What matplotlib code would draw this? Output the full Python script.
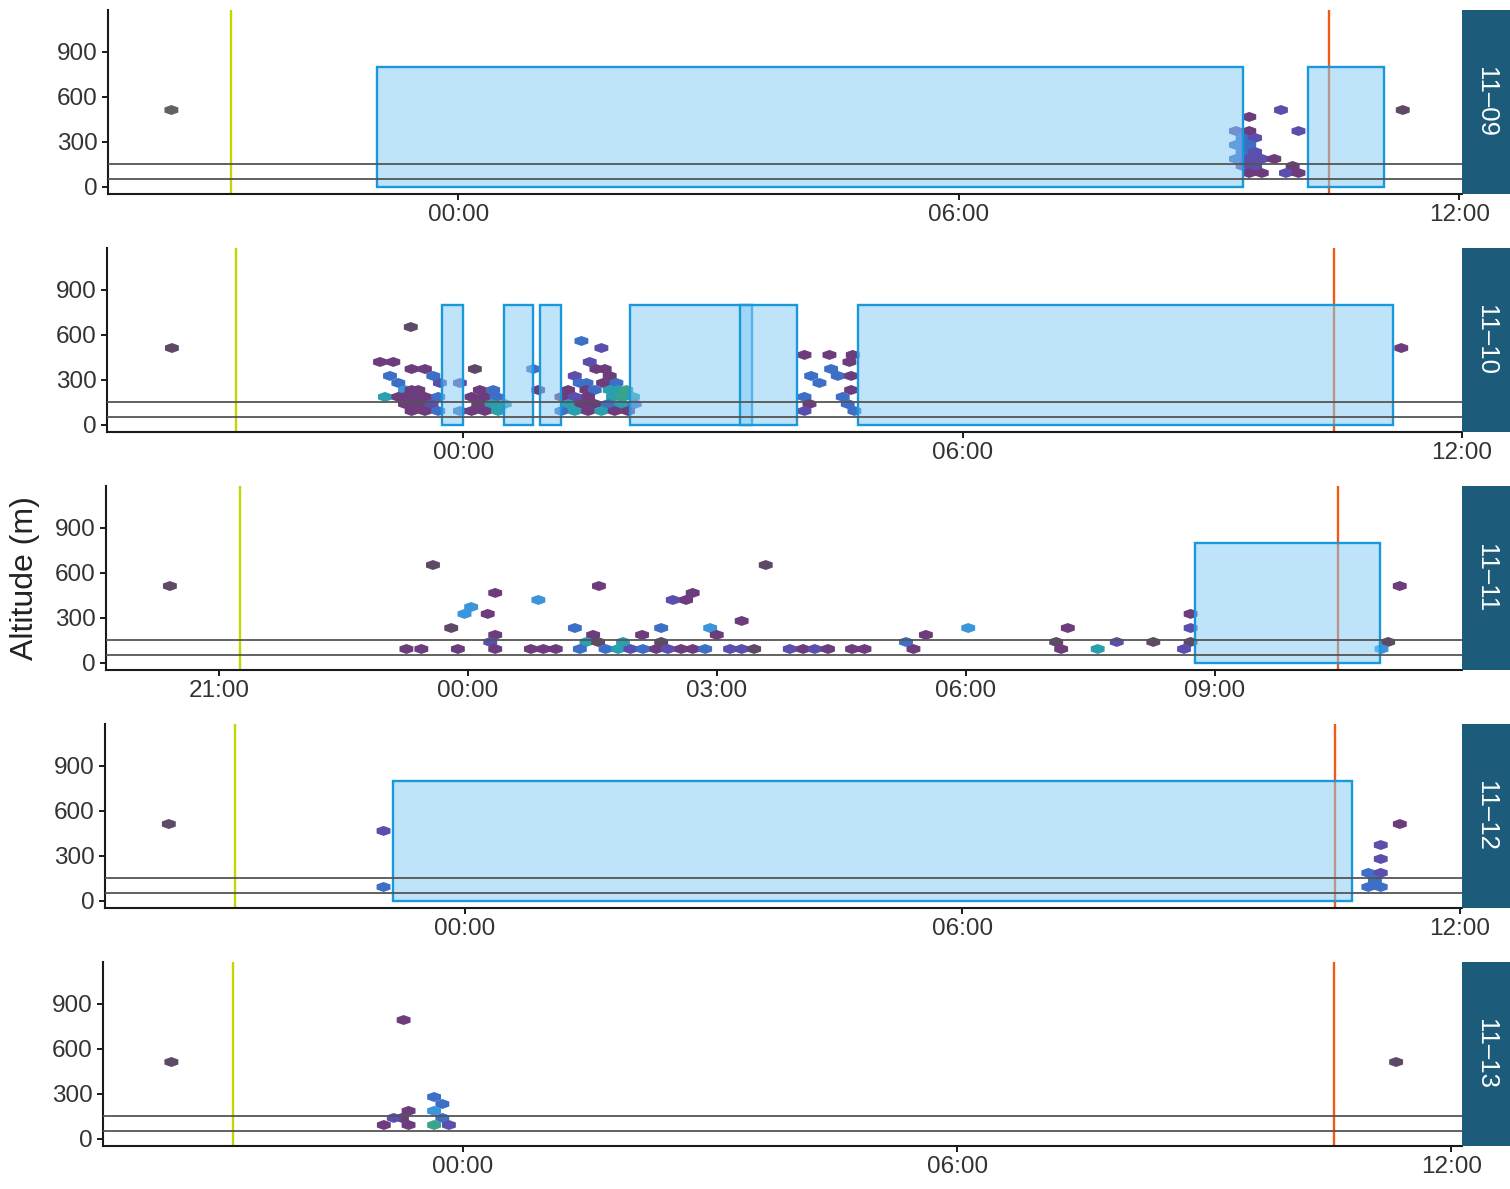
import matplotlib
matplotlib.use("Agg")
import matplotlib.pyplot as plt
from matplotlib.path import Path
from matplotlib.colors import LinearSegmentedColormap

plt.rcParams['font.family'] = ['Liberation Sans', 'DejaVu Sans']

# ---------------------------------------------------------------- data
# Night labels (one facet per night)
DATES = ["11–09", "11–10", "11–11", "11–12", "11–13"]

# Sunset / sunrise, hours relative to midnight
SUNSET = [-2.72, -2.73, -2.75, -2.77, -2.79]
SUNRISE = [10.44, 10.46, 10.48, 10.50, 10.57]

# Reference altitudes (m)
REF_ALTS = [50, 150]
RECT_TOP = 800

# Active periods (start, end), hours relative to midnight
RECT_0909 = [(-0.98, 9.41), (10.19, 11.10)]
RECT_0910 = [(-0.26, 0.00), (0.49, 0.84), (0.92, 1.17), (2.00, 3.47),
             (3.32, 4.01), (4.74, 11.17)]
RECT_0911 = [(8.76, 10.99)]
RECT_0912 = [(-0.86, 10.70)]
RECT_0913 = []

# Hex cells: (time h, altitude m, level 0-7)
HEX_0909 = [
    (-3.44, 513, 0), (11.32, 513, 1),
    (9.48, 467, 2), (9.86, 513, 3), (10.07, 373, 3),
    (9.32, 373, 3), (9.48, 373, 2), (9.40, 327, 4), (9.55, 327, 3),
    (9.32, 280, 4), (9.48, 280, 4), (9.40, 233, 4), (9.55, 233, 3),
    (9.32, 187, 4), (9.48, 187, 3), (9.63, 187, 3), (9.78, 187, 2),
    (9.40, 140, 3), (9.55, 140, 3), (10.00, 140, 2),
    (9.48, 93, 2), (9.63, 93, 2), (9.92, 93, 3), (10.07, 93, 2),
]

HEX_0910 = [
    (-3.50, 513, 1), (11.27, 513, 2), (-0.63, 653, 1),
    # evening cluster
    (-1.00, 420, 2), (-0.84, 420, 2),
    (-0.62, 373, 2), (-0.46, 373, 2), (0.14, 373, 1),
    (-0.88, 327, 4), (-0.36, 327, 4),
    (-0.78, 280, 4), (-0.28, 280, 3), (-0.04, 280, 3),
    (-0.70, 233, 5), (-0.62, 233, 2), (-0.54, 233, 2), (0.20, 233, 2),
    (0.36, 233, 4), (0.90, 233, 2),
    (-0.94, 187, 6), (-0.78, 187, 2), (-0.70, 187, 2), (-0.62, 187, 2),
    (-0.46, 187, 2), (-0.30, 187, 4), (0.10, 187, 2), (0.26, 187, 2),
    (0.40, 187, 4),
    (-0.70, 140, 2), (-0.54, 140, 2), (-0.38, 140, 3), (0.18, 140, 2),
    (0.34, 140, 6), (0.50, 140, 6),
    (-0.62, 93, 2), (-0.46, 93, 2), (-0.30, 93, 4), (-0.04, 93, 4),
    (0.10, 93, 2), (0.26, 93, 2), (0.42, 93, 6),
    (0.84, 373, 4),
    # early-morning cluster
    (1.42, 560, 4), (1.66, 513, 3), (1.52, 420, 3),
    (1.60, 373, 2), (1.70, 373, 2),
    (1.34, 327, 3), (1.76, 327, 2),
    (1.40, 280, 4), (1.48, 280, 4), (1.68, 280, 2), (1.84, 280, 4),
    (1.26, 233, 2), (1.48, 233, 2), (1.58, 233, 4), (1.76, 233, 6),
    (1.86, 233, 6), (1.96, 233, 7),
    (1.18, 187, 2), (1.34, 187, 3), (1.50, 187, 2), (1.80, 187, 6),
    (1.92, 187, 7), (2.04, 187, 6),
    (1.26, 140, 6), (1.42, 140, 2), (1.58, 140, 2), (1.74, 140, 4),
    (1.90, 140, 6), (2.06, 140, 4),
    (1.18, 93, 4), (1.34, 93, 6), (1.50, 93, 2), (1.66, 93, 6),
    (1.82, 93, 2), (1.98, 93, 2),
    # pre-dawn cluster
    (4.10, 467, 2), (4.40, 467, 2), (4.68, 467, 2), (4.64, 420, 2),
    (4.42, 373, 4), (4.18, 327, 4), (4.50, 327, 4), (4.66, 327, 2),
    (4.28, 280, 4), (4.66, 233, 2), (4.10, 187, 4), (4.56, 187, 4),
    (4.16, 140, 2), (4.62, 140, 4), (4.10, 93, 3), (4.70, 93, 4),
]

HEX_0911 = [
    (-3.59, 513, 1), (11.23, 513, 2),
    (-0.42, 653, 1), (3.59, 653, 1),
    (-0.74, 93, 2), (-0.56, 93, 2), (-0.20, 233, 1), (-0.12, 93, 2),
    (-0.04, 327, 5), (0.04, 373, 5), (0.24, 327, 2), (0.33, 467, 2),
    (0.33, 187, 2), (0.27, 140, 3), (0.33, 93, 2),
    (0.85, 420, 5), (1.58, 513, 2),
    (2.47, 420, 3), (2.63, 420, 2), (2.71, 467, 2), (3.30, 280, 2),
    (1.29, 233, 4), (2.33, 233, 4), (2.92, 233, 5),
    (3.00, 187, 2), (2.10, 187, 2), (1.51, 187, 2), (5.52, 187, 2),
    (6.03, 233, 5),
    (1.43, 140, 6), (1.57, 140, 1), (1.87, 140, 6), (2.33, 140, 1),
    (5.28, 140, 4),
    (0.76, 93, 2), (0.91, 93, 2), (1.06, 93, 2), (1.35, 93, 4),
    (1.66, 93, 4), (1.81, 93, 6), (1.96, 93, 3), (2.11, 93, 4),
    (2.27, 93, 2), (2.41, 93, 3), (2.57, 93, 2), (2.71, 93, 2),
    (2.86, 93, 4), (3.16, 93, 3), (3.30, 93, 3), (3.45, 93, 1),
    (3.88, 93, 3), (4.04, 93, 2), (4.18, 93, 3), (4.34, 93, 2),
    (4.63, 93, 2), (4.78, 93, 2), (5.37, 93, 2),
    (7.23, 233, 2), (7.09, 140, 1), (7.15, 93, 2), (7.59, 93, 6),
    (7.82, 140, 3), (8.26, 140, 1),
    (8.71, 327, 2), (8.71, 233, 3), (8.71, 140, 1), (8.63, 93, 3),
    (11.09, 140, 1), (11.01, 93, 5),
]

HEX_0912 = [
    (-3.57, 513, 1), (11.28, 513, 2),
    (-0.98, 467, 3), (-0.98, 93, 4),
    (11.05, 373, 3), (11.05, 280, 3), (10.90, 187, 4), (11.05, 187, 3),
    (10.98, 140, 4), (10.90, 93, 4), (11.05, 93, 4),
]

HEX_0913 = [
    (-3.54, 513, 1), (11.33, 513, 1),
    (-0.72, 793, 2),
    (-0.35, 280, 4), (-0.25, 233, 4), (-0.35, 187, 5), (-0.25, 140, 4),
    (-0.35, 93, 7), (-0.17, 93, 3),
    (-0.66, 187, 2), (-0.74, 140, 2), (-0.84, 140, 3),
    (-0.96, 93, 2), (-0.66, 93, 2),
]

# Axis ticks per facet (hours relative to midnight) and their labels
TICKS_6H = [0, 6, 12]
TICKLABELS_6H = ["00:00", "06:00", "12:00"]
TICKS_3H = [-3, 0, 3, 6, 9]
TICKLABELS_3H = ["21:00", "00:00", "03:00", "06:00", "09:00"]
Y_TICKS = [0, 300, 600, 900]

# ---------------------------------------------------------------- style
W, H = 1510, 1189
PANEL_LEFT = [108, 107, 106, 105, 103]
PANEL_RIGHT = 1462
PANEL_TOP = [10, 248, 486, 724, 962]
PANEL_H = 184
XLIMS = [(-4.20, 12.03), (-4.28, 12.00), (-4.36, 11.98),
         (-4.34, 12.03), (-4.37, 12.13)]
YLIM = (-47, 1180)

STRIP_COLOR = "#1c5b79"
RECT_FACE = (0.52, 0.80, 0.97, 0.52)
RECT_EDGE = "#1a98dc"
SUNSET_COLOR = "#c3d600"
SUNRISE_COLOR = "#f25a14"
REF_COLOR = "#555555"
TEXT_COLOR = "#333333"

LEVEL_CMAP = LinearSegmentedColormap.from_list(
    "levels",
    ["#646166", "#5e4a66", "#6c3c7c", "#5b4fae",
     "#3e6fc6", "#3a95da", "#2aa0ae", "#3aa38a"])

# slightly squat, pointy-top hexagon
HEX_MARKER = Path([(0, 0.36), (0.5, 0.18), (0.5, -0.18), (0, -0.36),
                   (-0.5, -0.18), (-0.5, 0.18), (0, 0.36)], closed=True)

facets = [
    (HEX_0909, RECT_0909, TICKS_6H, TICKLABELS_6H),
    (HEX_0910, RECT_0910, TICKS_6H, TICKLABELS_6H),
    (HEX_0911, RECT_0911, TICKS_3H, TICKLABELS_3H),
    (HEX_0912, RECT_0912, TICKS_6H, TICKLABELS_6H),
    (HEX_0913, RECT_0913, TICKS_6H, TICKLABELS_6H),
]

fig = plt.figure(figsize=(W / 100, H / 100), dpi=100)
fig.patch.set_facecolor("white")

for i, (hexes, rects, xt, xtl) in enumerate(facets):
    left = PANEL_LEFT[i]
    top = PANEL_TOP[i]
    ax = fig.add_axes([left / W, 1 - (top + PANEL_H) / H,
                       (PANEL_RIGHT - left) / W, PANEL_H / H])
    ax.set_xlim(*XLIMS[i])
    ax.set_ylim(*YLIM)

    # sunset / sunrise
    ax.axvline(SUNSET[i], color=SUNSET_COLOR, lw=1.7, zorder=1)
    ax.axvline(SUNRISE[i], color=SUNRISE_COLOR, lw=1.7, zorder=1)

    # hex cells
    if hexes:
        t, alt, lvl = zip(*hexes)
        ax.scatter(t, alt, c=lvl, cmap=LEVEL_CMAP, vmin=0, vmax=7,
                   marker=HEX_MARKER, s=100, linewidths=0, zorder=2)

    # active periods
    for start, end in rects:
        ax.bar(start, RECT_TOP, width=end - start, bottom=0, align="edge",
               facecolor=RECT_FACE, edgecolor=RECT_EDGE, linewidth=1.7,
               zorder=3)

    # reference altitudes
    for a in REF_ALTS:
        ax.axhline(a, color=REF_COLOR, lw=1.3, zorder=4)

    ax.set_xticks(xt)
    ax.set_xticklabels(xtl)
    ax.set_yticks(Y_TICKS)
    for side in ("top", "right"):
        ax.spines[side].set_visible(False)
    for side in ("left", "bottom"):
        ax.spines[side].set_linewidth(1.5)
        ax.spines[side].set_color("#1a1a1a")
    ax.tick_params(axis="both", direction="out", length=4.5, width=1.4,
                   color="#1a1a1a", labelsize=17.5, labelcolor=TEXT_COLOR,
                   pad=3)
    ax.set_facecolor("white")

    # facet strip
    sax = fig.add_axes([PANEL_RIGHT / W, 1 - (top + PANEL_H) / H,
                        (W - PANEL_RIGHT) / W, PANEL_H / H])
    sax.set_facecolor(STRIP_COLOR)
    for s in sax.spines.values():
        s.set_visible(False)
    sax.set_xticks([])
    sax.set_yticks([])
    sax.text(0.5, 0.5, DATES[i], rotation=270, color="white",
             fontsize=18.5, ha="center", va="center",
             transform=sax.transAxes)

fig.text(25 / W, 1 - 578 / H, "Altitude (m)", rotation=90, fontsize=23,
         ha="center", va="center", color="#222222")

fig.savefig("out.png", dpi=100, facecolor="white")
